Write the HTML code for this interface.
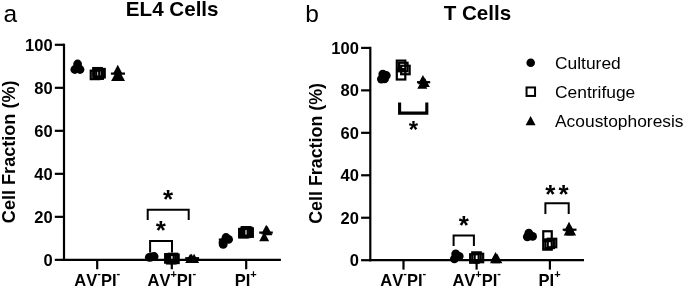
<!DOCTYPE html>
<html><head><meta charset="utf-8"><title>Figure</title>
<style>
html,body{margin:0;padding:0;background:#fff;}
body{width:685px;height:288px;overflow:hidden;}
svg{display:block;font-kerning:none;font-family:"Liberation Sans",sans-serif;fill:#000;}
</style></head><body>
<svg width="685" height="288" viewBox="0 0 685 288" shape-rendering="geometricPrecision">
<rect x="0" y="0" width="685" height="288" fill="#fff"/>
<line x1="64" y1="43.7" x2="64" y2="260.95" stroke="#000" stroke-width="2.2"/>
<line x1="62.9" y1="259.85" x2="280.9" y2="259.85" stroke="#000" stroke-width="2.2"/>
<line x1="54.8" y1="259.85" x2="64" y2="259.85" stroke="#000" stroke-width="2.2"/>
<text x="52.6" y="265.85" font-size="16.5" font-weight="bold" text-anchor="end" >0</text>
<line x1="54.8" y1="216.84" x2="64" y2="216.84" stroke="#000" stroke-width="2.2"/>
<text x="52.6" y="222.84" font-size="16.5" font-weight="bold" text-anchor="end" >20</text>
<line x1="54.8" y1="173.83" x2="64" y2="173.83" stroke="#000" stroke-width="2.2"/>
<text x="52.6" y="179.83" font-size="16.5" font-weight="bold" text-anchor="end" >40</text>
<line x1="54.8" y1="130.82" x2="64" y2="130.82" stroke="#000" stroke-width="2.2"/>
<text x="52.6" y="136.82" font-size="16.5" font-weight="bold" text-anchor="end" >60</text>
<line x1="54.8" y1="87.81" x2="64" y2="87.81" stroke="#000" stroke-width="2.2"/>
<text x="52.6" y="93.81" font-size="16.5" font-weight="bold" text-anchor="end" >80</text>
<line x1="54.8" y1="44.8" x2="64" y2="44.8" stroke="#000" stroke-width="2.2"/>
<text x="52.6" y="50.8" font-size="16.5" font-weight="bold" text-anchor="end" >100</text>
<line x1="97.2" y1="259.85" x2="97.2" y2="269.25" stroke="#000" stroke-width="2.2"/>
<line x1="171.8" y1="259.85" x2="171.8" y2="269.25" stroke="#000" stroke-width="2.2"/>
<line x1="246.2" y1="259.85" x2="246.2" y2="269.25" stroke="#000" stroke-width="2.2"/>
<text x="3.6" y="22.4" font-size="24.5" font-weight="normal" text-anchor="start" >a</text>
<text x="172.2" y="16.3" font-size="20.6" font-weight="bold" text-anchor="middle" >EL4 Cells</text>
<text transform="translate(14.7,151.8) rotate(-90)" font-size="18.1" font-weight="bold" text-anchor="middle">Cell Fraction (%)</text>
<text x="97.3" y="286" font-weight="bold" text-anchor="middle"><tspan font-size="16.5">AV</tspan><tspan font-size="11" dy="-9">-</tspan><tspan font-size="16.5" dy="9">PI</tspan><tspan font-size="11" dy="-9">-</tspan></text>
<text x="171.8" y="286" font-weight="bold" text-anchor="middle"><tspan font-size="16.5">AV</tspan><tspan font-size="11" dy="-7.9">+</tspan><tspan font-size="16.5" dy="7.9">PI</tspan><tspan font-size="11" dy="-9">-</tspan></text>
<text x="245.7" y="286" font-weight="bold" text-anchor="middle"><tspan font-size="16.5">PI</tspan><tspan font-size="11" dy="-7.9">+</tspan></text>
<circle cx="77.6" cy="64.0" r="4.4" fill="#000"/>
<circle cx="74.8" cy="69.5" r="4.4" fill="#000"/>
<circle cx="80.0" cy="69.5" r="4.4" fill="#000"/>
<rect x="90.75" y="70.65" width="8.5" height="8.5" fill="none" stroke="#000" stroke-width="2.2"/>
<rect x="93.25" y="68.05" width="8.5" height="8.5" fill="none" stroke="#000" stroke-width="2.2"/>
<rect x="96.25" y="68.95" width="8.5" height="8.5" fill="none" stroke="#000" stroke-width="2.2"/>
<rect x="94.35" y="70.35" width="8.5" height="8.5" fill="none" stroke="#000" stroke-width="2.2"/>
<rect x="93.65" y="69.45" width="8.5" height="8.5" fill="none" stroke="#000" stroke-width="2.2"/>
<line x1="110.9" y1="73.6" x2="125" y2="73.6" stroke="#000" stroke-width="2.2"/>
<polygon points="117.75,64.85 122.75,74.15 112.75,74.15" fill="#000"/>
<polygon points="116.1,71.65 121.10,80.95 111.10,80.95" fill="#000"/>
<polygon points="120.0,71.65 125.00,80.95 115.00,80.95" fill="#000"/>
<polygon points="118.0,71.65 123.00,80.95 113.00,80.95" fill="#000"/>
<polyline points="147.7,219.9 147.7,209.7 188.7,209.7 188.7,219.9" fill="none" stroke="#000" stroke-width="2.0"/>
<polyline points="150.1,252.5 150.1,241.0 172.0,241.0 172.0,252.5" fill="none" stroke="#000" stroke-width="2.0"/>
<text x="168" y="208.4" font-size="26" font-weight="bold" text-anchor="middle" >*</text>
<text x="160.7" y="239.2" font-size="26" font-weight="bold" text-anchor="middle" >*</text>
<circle cx="149.3" cy="257.3" r="4.4" fill="#000"/>
<circle cx="154.1" cy="256.5" r="4.4" fill="#000"/>
<circle cx="151.5" cy="257.0" r="4.4" fill="#000"/>
<rect x="165.15" y="254.15" width="8.5" height="8.5" fill="none" stroke="#000" stroke-width="2.2"/>
<rect x="167.05" y="254.95" width="8.5" height="8.5" fill="none" stroke="#000" stroke-width="2.2"/>
<rect x="168.75" y="253.75" width="8.5" height="8.5" fill="none" stroke="#000" stroke-width="2.2"/>
<rect x="170.15" y="254.55" width="8.5" height="8.5" fill="none" stroke="#000" stroke-width="2.2"/>
<line x1="185.2" y1="258.2" x2="199.1" y2="258.2" stroke="#000" stroke-width="2.2"/>
<polygon points="190.2,253.80 195.20,263.10 185.20,263.10" fill="#000"/>
<polygon points="191.6,253.80 196.60,263.10 186.60,263.10" fill="#000"/>
<polygon points="194.1,253.80 199.10,263.10 189.10,263.10" fill="#000"/>
<line x1="218.8" y1="239.6" x2="232.7" y2="239.6" stroke="#000" stroke-width="2.2"/>
<circle cx="226" cy="237.5" r="4.4" fill="#000"/>
<circle cx="228.5" cy="239.4" r="4.4" fill="#000"/>
<circle cx="223.0" cy="242.5" r="4.4" fill="#000"/>
<circle cx="223.2" cy="244.4" r="4.4" fill="#000"/>
<rect x="239.15" y="228.95" width="8.5" height="8.5" fill="none" stroke="#000" stroke-width="2.2"/>
<rect x="241.75" y="227.15" width="8.5" height="8.5" fill="none" stroke="#000" stroke-width="2.2"/>
<rect x="244.35" y="228.35" width="8.5" height="8.5" fill="none" stroke="#000" stroke-width="2.2"/>
<rect x="240.75" y="228.65" width="8.5" height="8.5" fill="none" stroke="#000" stroke-width="2.2"/>
<rect x="242.95" y="227.65" width="8.5" height="8.5" fill="none" stroke="#000" stroke-width="2.2"/>
<line x1="259.2" y1="232.6" x2="272.8" y2="232.6" stroke="#000" stroke-width="2.2"/>
<polygon points="266.2,224.85 271.20,234.15 261.20,234.15" fill="#000"/>
<polygon points="267.4,225.95 272.40,235.25 262.40,235.25" fill="#000"/>
<polygon points="264.2,232.05 269.20,241.35 259.20,241.35" fill="#000"/>
<line x1="370.3" y1="46.8" x2="370.3" y2="261.3" stroke="#000" stroke-width="2.2"/>
<line x1="369.2" y1="260.2" x2="584" y2="260.2" stroke="#000" stroke-width="2.2"/>
<line x1="361.1" y1="260.2" x2="370.3" y2="260.2" stroke="#000" stroke-width="2.2"/>
<text x="358.9" y="266.2" font-size="16.5" font-weight="bold" text-anchor="end" >0</text>
<line x1="361.1" y1="217.74" x2="370.3" y2="217.74" stroke="#000" stroke-width="2.2"/>
<text x="358.9" y="223.74" font-size="16.5" font-weight="bold" text-anchor="end" >20</text>
<line x1="361.1" y1="175.28" x2="370.3" y2="175.28" stroke="#000" stroke-width="2.2"/>
<text x="358.9" y="181.28" font-size="16.5" font-weight="bold" text-anchor="end" >40</text>
<line x1="361.1" y1="132.82" x2="370.3" y2="132.82" stroke="#000" stroke-width="2.2"/>
<text x="358.9" y="138.82" font-size="16.5" font-weight="bold" text-anchor="end" >60</text>
<line x1="361.1" y1="90.36" x2="370.3" y2="90.36" stroke="#000" stroke-width="2.2"/>
<text x="358.9" y="96.36" font-size="16.5" font-weight="bold" text-anchor="end" >80</text>
<line x1="361.1" y1="47.9" x2="370.3" y2="47.9" stroke="#000" stroke-width="2.2"/>
<text x="358.9" y="53.9" font-size="16.5" font-weight="bold" text-anchor="end" >100</text>
<line x1="403.5" y1="260.2" x2="403.5" y2="269.6" stroke="#000" stroke-width="2.2"/>
<line x1="476.6" y1="260.2" x2="476.6" y2="269.6" stroke="#000" stroke-width="2.2"/>
<line x1="549.9" y1="260.2" x2="549.9" y2="269.6" stroke="#000" stroke-width="2.2"/>
<text x="305.2" y="22.4" font-size="24.5" font-weight="normal" text-anchor="start" >b</text>
<text x="477.4" y="20" font-size="20.6" font-weight="bold" text-anchor="middle" >T Cells</text>
<text transform="translate(321.7,153.4) rotate(-90)" font-size="17.85" font-weight="bold" text-anchor="middle">Cell Fraction (%)</text>
<text x="403.3" y="286.3" font-weight="bold" text-anchor="middle"><tspan font-size="16.5">AV</tspan><tspan font-size="11" dy="-9">-</tspan><tspan font-size="16.5" dy="9">PI</tspan><tspan font-size="11" dy="-9">-</tspan></text>
<text x="476.7" y="286.3" font-weight="bold" text-anchor="middle"><tspan font-size="16.5">AV</tspan><tspan font-size="11" dy="-7.9">+</tspan><tspan font-size="16.5" dy="7.9">PI</tspan><tspan font-size="11" dy="-9">-</tspan></text>
<text x="549.6" y="286.3" font-weight="bold" text-anchor="middle"><tspan font-size="16.5">PI</tspan><tspan font-size="11" dy="-7.9">+</tspan></text>
<circle cx="382.8" cy="74.1" r="4.4" fill="#000"/>
<circle cx="386.3" cy="75.5" r="4.4" fill="#000"/>
<circle cx="381.4" cy="79.1" r="4.4" fill="#000"/>
<circle cx="384.6" cy="78.8" r="4.4" fill="#000"/>
<rect x="396.80" y="71.00" width="8.5" height="8.5" fill="none" stroke="#000" stroke-width="2.2"/>
<rect x="396.80" y="60.60" width="8.5" height="8.5" fill="none" stroke="#000" stroke-width="2.2"/>
<rect x="401.15" y="65.75" width="8.5" height="8.5" fill="none" stroke="#000" stroke-width="2.2"/>
<rect x="399.05" y="62.75" width="8.5" height="8.5" fill="none" stroke="#000" stroke-width="2.2"/>
<line x1="417" y1="82.2" x2="430.2" y2="82.2" stroke="#000" stroke-width="2.2"/>
<polygon points="422.9,75.05 427.90,84.35 417.90,84.35" fill="#000"/>
<polygon points="422.3,79.45 427.30,88.75 417.30,88.75" fill="#000"/>
<polygon points="424.8,77.65 429.80,86.95 419.80,86.95" fill="#000"/>
<polyline points="399.6,102.4 399.6,113.1 426.8,113.1 426.8,102.4" fill="none" stroke="#000" stroke-width="3.1"/>
<text x="413.3" y="138.1" font-size="24" font-weight="bold" text-anchor="middle" >*</text>
<polyline points="453.6,246.0 453.6,235.4 473.9,235.4 473.9,246.0" fill="none" stroke="#000" stroke-width="2.0"/>
<text x="463.8" y="234.1" font-size="26" font-weight="bold" text-anchor="middle" >*</text>
<circle cx="455.7" cy="253.8" r="4.4" fill="#000"/>
<circle cx="459.2" cy="256.3" r="4.4" fill="#000"/>
<circle cx="454.4" cy="258.8" r="4.4" fill="#000"/>
<rect x="470.15" y="254.25" width="8.5" height="8.5" fill="none" stroke="#000" stroke-width="2.2"/>
<rect x="472.25" y="252.35" width="8.5" height="8.5" fill="none" stroke="#000" stroke-width="2.2"/>
<rect x="474.65" y="253.75" width="8.5" height="8.5" fill="none" stroke="#000" stroke-width="2.2"/>
<polygon points="495.6,251.95 500.60,261.25 490.60,261.25" fill="#000"/>
<polygon points="497.3,253.85 502.30,263.15 492.30,263.15" fill="#000"/>
<polygon points="495.0,253.85 500.00,263.15 490.00,263.15" fill="#000"/>
<polyline points="545.4,214.1 545.4,203.2 568.7,203.2 568.7,214.1" fill="none" stroke="#000" stroke-width="2.0"/>
<text x="550.2" y="202.8" font-size="26" font-weight="bold" text-anchor="middle" >*</text>
<text x="563.5" y="202.8" font-size="26" font-weight="bold" text-anchor="middle" >*</text>
<circle cx="528.8" cy="233.2" r="4.4" fill="#000"/>
<circle cx="527.3" cy="236.8" r="4.4" fill="#000"/>
<circle cx="532.6" cy="236.4" r="4.4" fill="#000"/>
<rect x="543.25" y="231.25" width="8.5" height="8.5" fill="none" stroke="#000" stroke-width="2.2"/>
<rect x="543.25" y="241.15" width="8.5" height="8.5" fill="none" stroke="#000" stroke-width="2.2"/>
<rect x="547.75" y="238.75" width="8.5" height="8.5" fill="none" stroke="#000" stroke-width="2.2"/>
<rect x="545.35" y="239.55" width="8.5" height="8.5" fill="none" stroke="#000" stroke-width="2.2"/>
<line x1="562.7" y1="229.7" x2="576.5" y2="229.7" stroke="#000" stroke-width="2.2"/>
<polygon points="569,221.85 574.00,231.15 564.00,231.15" fill="#000"/>
<polygon points="568.7,226.25 573.70,235.55 563.70,235.55" fill="#000"/>
<polygon points="571.1,226.25 576.10,235.55 566.10,235.55" fill="#000"/>
<circle cx="530.7" cy="62.7" r="4.3" fill="#000"/>
<rect x="526.55" y="87.45" width="8.5" height="8.5" fill="none" stroke="#000" stroke-width="2.0"/>
<polygon points="530.6,115.95 535.60,125.25 525.60,125.25" fill="#000"/>
<text x="555" y="69" font-size="17.4" font-weight="normal" text-anchor="start" >Cultured</text>
<text x="555" y="97.7" font-size="17.4" font-weight="normal" text-anchor="start" >Centrifuge</text>
<text x="555" y="126.5" font-size="17.4" font-weight="normal" text-anchor="start" >Acoustophoresis</text>
</svg>
</body></html>
